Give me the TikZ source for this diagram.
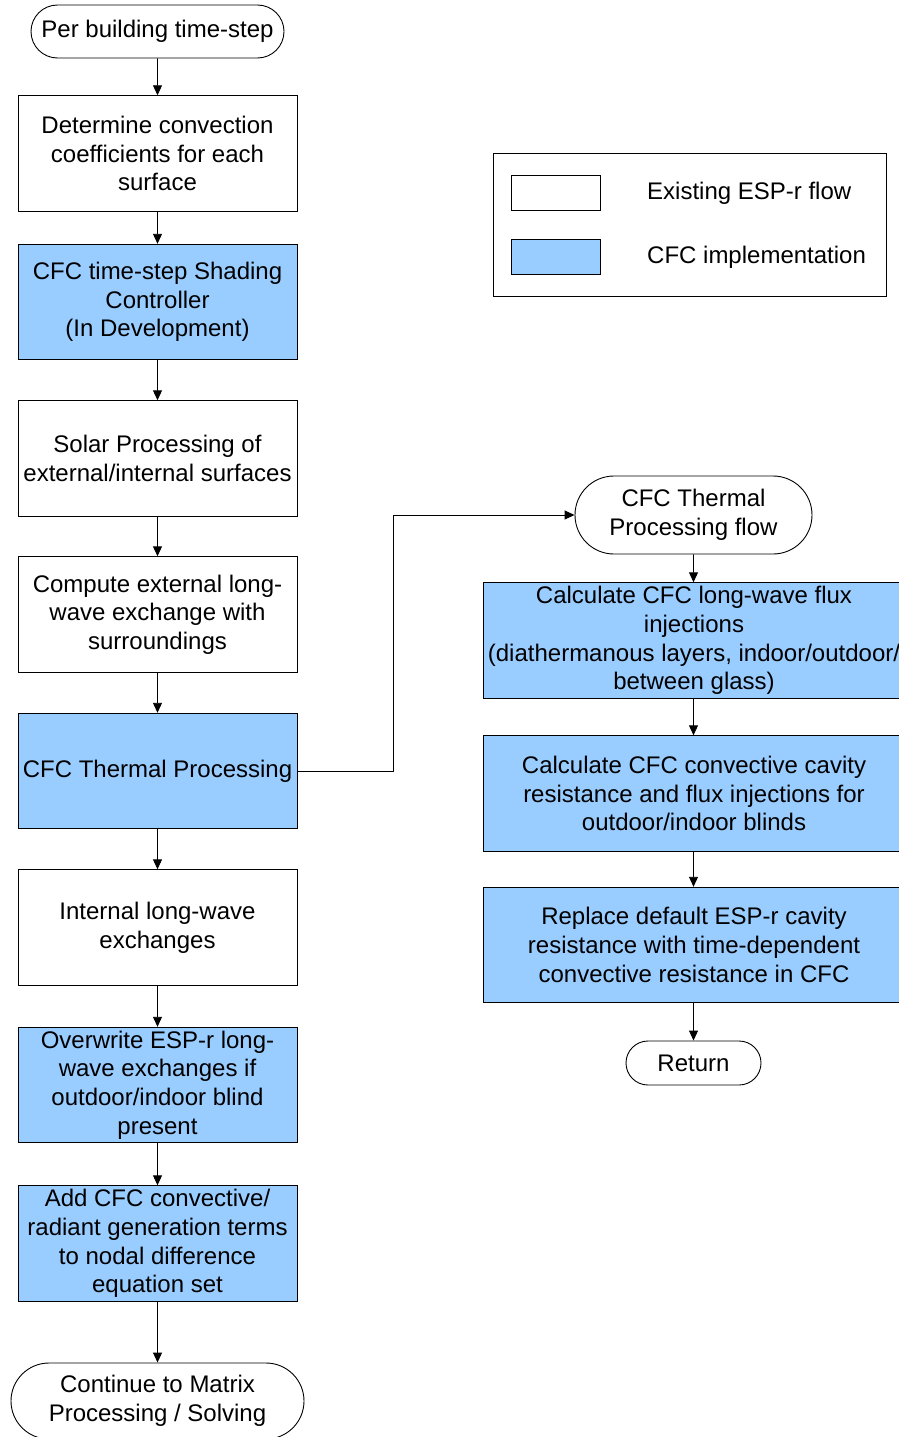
\documentclass[tikz,border=0pt]{standalone}
\usepackage{fontspec}
\setmainfont{Liberation Sans}
\usetikzlibrary{arrows.meta,shapes.misc}
\definecolor{cfcblue}{RGB}{153,204,255}
\begin{document}
\begin{tikzpicture}[x=1pt,y=-1pt,
  txt/.style={font=\fontsize{24}{28.6}\selectfont,align=center,inner sep=1pt},
  box/.style={txt,draw,line width=0.9pt,rectangle,minimum width=279pt,minimum height=115.5pt},
  rbox/.style={txt,draw,line width=0.9pt,rectangle,minimum width=422pt,minimum height=115.5pt,fill=cfcblue},
  cfc/.style={fill=cfcblue},
  term/.style={txt,draw,line width=0.9pt,rounded rectangle},
  arr/.style={line width=0.9pt,-{Triangle[length=10pt,width=9pt]}}
]
\useasboundingbox (0,0) rectangle (899,1437);
\clip (0,0) rectangle (899,1437);
% left column
\node[term,minimum width=255pt,minimum height=53pt] (start) at (157.5,31.5) {Per building time-step};
\node[box] (b1) at (157.5,153.5) {Determine convection\\coefficients for each\\surface};
\node[box,cfc] (b2) at (157.5,302) {CFC time-step Shading\\Controller\\(In Development)};
\node[box] (b3) at (157.5,458.5) {Solar Processing of\\external/internal surfaces};
\node[box] (b4) at (157.5,614.5) {Compute external long-\\wave exchange with\\surroundings};
\node[box,cfc] (b5) at (157.5,771) {CFC Thermal Processing};
\node[box] (b6) at (157.5,927.5) {Internal long-wave\\exchanges};
\node[box,cfc] (b7) at (157.5,1085) {Overwrite ESP-r long-\\wave exchanges if\\outdoor/indoor blind\\present};
\node[box,cfc] (b8) at (157.5,1243.5) {Add CFC convective/\\radiant generation terms\\to nodal difference\\equation set};
\node[term,minimum width=295pt,minimum height=76pt] (end) at (157.5,1401) {Continue to Matrix\\Processing / Solving};
% right column
\node[term,minimum width=239pt,minimum height=78pt] (rt) at (693.5,515) {CFC Thermal\\Processing flow};
\node[rbox] (r1) at (694,640.5) {Calculate CFC long-wave flux\\injections\\(diathermanous layers, indoor/outdoor/\\between glass)};
\node[rbox] (r2) at (694,793.5) {Calculate CFC convective cavity\\resistance and flux injections for\\outdoor/indoor blinds};
\node[rbox] (r3) at (694,945) {Replace default ESP-r cavity\\resistance with time-dependent\\convective resistance in CFC};
\node[term,minimum width=137pt,minimum height=44pt] (ret) at (693.5,1063) {Return};
% legend
\node[draw,line width=0.9pt,minimum width=393pt,minimum height=143pt] (leg) at (689.5,224.5) {};
\node[draw,line width=0.9pt,minimum width=89pt,minimum height=35pt] (sw1) at (555.5,192.5) {};
\node[draw,line width=0.9pt,minimum width=89pt,minimum height=35pt,fill=cfcblue] (sw2) at (555.5,256.5) {};
\node[txt,anchor=west] (l1) at (646,193) {Existing ESP-r flow};
\node[txt,anchor=west] (l2) at (646,257) {CFC implementation};
% connectors
\draw[arr] (start) -- (b1);
\draw[arr] (b1) -- (b2);
\draw[arr] (b2) -- (b3);
\draw[arr] (b3) -- (b4);
\draw[arr] (b4) -- (b5);
\draw[arr] (b5) -- (b6);
\draw[arr] (b6) -- (b7);
\draw[arr] (b7) -- (b8);
\draw[arr] (b8) -- (end);
\coordinate (bend) at (393,771);
\draw[arr] (b5.east) -- (bend) |- (rt.west);
\draw[arr] (rt) -- (rt |- r1.north);
\draw[arr] (rt |- r1.south) -- (rt |- r2.north);
\draw[arr] (rt |- r2.south) -- (rt |- r3.north);
\draw[arr] (rt |- r3.south) -- (ret);
\end{tikzpicture}
\end{document}
